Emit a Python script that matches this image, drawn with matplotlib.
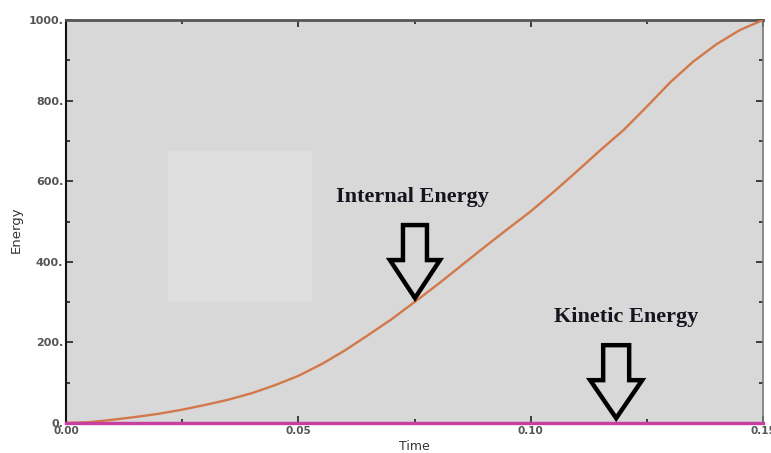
import matplotlib
matplotlib.use("Agg")
import matplotlib.pyplot as plt
import matplotlib.transforms as mtransforms
from matplotlib.patches import Polygon, Rectangle
from matplotlib.ticker import FixedLocator

# ---- data ----
time = [0.0, 0.005, 0.01, 0.015, 0.02, 0.025, 0.03, 0.035, 0.04, 0.045, 0.05,
        0.055, 0.06, 0.065, 0.07, 0.075, 0.08, 0.085, 0.09, 0.095, 0.10,
        0.105, 0.11, 0.115, 0.12, 0.125, 0.13, 0.135, 0.14, 0.145, 0.15]
internal_energy = [0, 2, 8, 15, 23, 33, 45, 58, 74, 94, 117,
                   146, 180, 218, 257, 300, 344, 390, 436, 481, 525,
                   574, 625, 677, 727, 785, 845, 897, 940, 975, 1000]
kinetic_energy = [0.0] * len(time)

x_ticks = [0.00, 0.05, 0.10, 0.15]
x_tick_labels = ["0.00", "0.05", "0.10", "0.15"]
y_ticks = [0, 200, 400, 600, 800, 1000]
y_tick_labels = ["0.", "200.", "400.", "600.", "800.", "1000."]

fig = plt.figure(figsize=(7.71, 4.53), dpi=100)
W, H = 771, 453
ax = fig.add_axes([66 / W, 1 - 423 / H, (763 - 66) / W, (423 - 20) / H])
ax.set_facecolor("#d8d8d8")

# faint lighter rectangle artifact
ax.add_patch(Rectangle(((168 - 66) / 697, (423 - 302) / 403), 144 / 697, 151 / 403,
                       transform=ax.transAxes, facecolor="#dedede", edgecolor="none", zorder=0))

ax.plot(time, internal_energy, color="#d2784a", lw=1.7, zorder=3,
        solid_joinstyle="round", solid_capstyle="round")
ax.plot(time, kinetic_energy, color="#c8409f", lw=2.4, zorder=3, clip_on=False)

ax.set_xlim(0, 0.15)
ax.set_ylim(0, 1000)
ax.set_xticks(x_ticks)
ax.set_xticklabels(x_tick_labels)
ax.set_yticks(y_ticks)
ax.set_yticklabels(y_tick_labels)
ax.xaxis.set_minor_locator(FixedLocator([0.025, 0.075, 0.125]))
ax.yaxis.set_minor_locator(FixedLocator([100, 300, 500, 700, 900]))
ax.tick_params(which="both", direction="in", top=True, right=True, colors="#222222",
               labelcolor="#555555", pad=2)
ax.tick_params(axis="y", labelsize=8)
ax.tick_params(axis="x", labelsize=7.5)
ax.tick_params(which="major", length=5, width=1.2)
ax.tick_params(which="minor", length=3, width=1.2)
for lab in ax.get_xticklabels() + ax.get_yticklabels():
    lab.set_fontweight("bold")

ax.spines["left"].set_color("#111111")
ax.spines["left"].set_linewidth(1.5)
ax.spines["top"].set_color("#555555")
ax.spines["top"].set_linewidth(2)
ax.spines["right"].set_color("#777777")
ax.spines["right"].set_linewidth(1.2)
ax.spines["bottom"].set_color("#c8409f")
ax.spines["bottom"].set_linewidth(1.5)

ax.set_xlabel("Time", fontsize=9, color="#333333", labelpad=3)
ax.set_ylabel("Energy", fontsize=9.5, color="#333333")
ax.yaxis.set_label_coords(-0.062, 0.48)


def hollow_arrow(tip_x, tip_y, head_half, shaft_half, head_len, total_len):
    pts = [(0, 0), (-head_half, head_len), (-shaft_half, head_len), (-shaft_half, total_len),
           (shaft_half, total_len), (shaft_half, head_len), (head_half, head_len)]
    pts = [(x / 100.0, y / 100.0) for x, y in pts]
    trans = fig.dpi_scale_trans + mtransforms.ScaledTranslation(tip_x, tip_y, ax.transData)
    ax.add_patch(Polygon(pts, closed=True, transform=trans, facecolor="#d8d8d8",
                         edgecolor="black", lw=3.2, joinstyle="miter", zorder=4, clip_on=False))


hollow_arrow(0.0751, 310, 25, 12, 38, 73)
hollow_arrow(0.1184, 12, 26, 13, 38, 73)

ax.text(0.0746, 560, "Internal Energy", family="Liberation Serif", fontweight="bold",
        fontsize=16, color="#15151f", ha="center", va="center", zorder=5)
ax.text(0.1205, 262, "Kinetic Energy", family="Liberation Serif", fontweight="bold",
        fontsize=16, color="#15151f", ha="center", va="center", zorder=5)

fig.savefig("out.png", dpi=100)
